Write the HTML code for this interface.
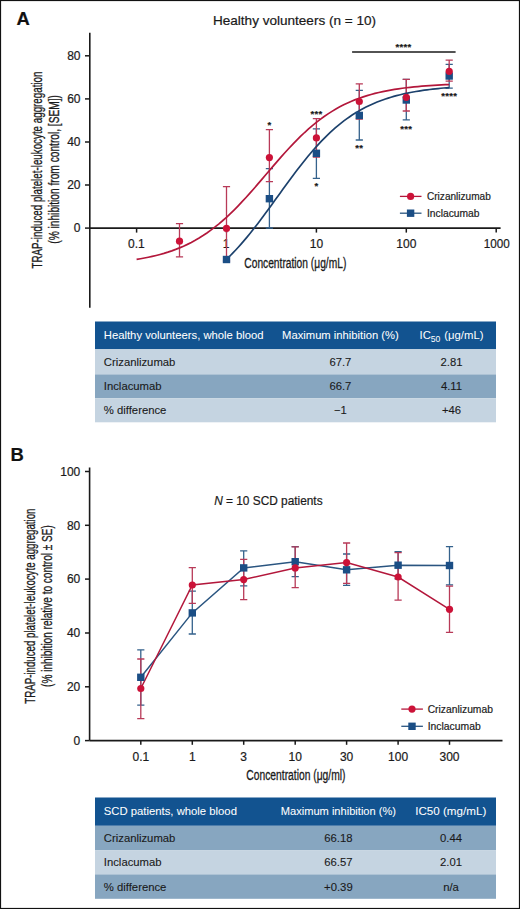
<!DOCTYPE html><html><head><meta charset="utf-8"><style>html,body{margin:0;padding:0;background:#fff;}svg{display:block;font-family:"Liberation Sans", sans-serif;}</style></head><body>
<svg width="520" height="909" viewBox="0 0 520 909">
<rect x="0" y="0" width="520" height="909" fill="#fff"/>
<rect x="0.5" y="0.5" width="519" height="908" fill="none" stroke="#111" stroke-width="1.2"/>
<text x="16.5" y="25.0" font-size="18.40" text-anchor="start" fill="#111" font-weight="bold" stroke="#111" stroke-width="0.20">A</text>
<text x="10.5" y="461.0" font-size="18.40" text-anchor="start" fill="#111" font-weight="bold" stroke="#111" stroke-width="0.20">B</text>
<text x="213.0" y="24.6" font-size="13.00" text-anchor="start" fill="#1a1a1a" font-weight="normal" textLength="163.0" lengthAdjust="spacingAndGlyphs" stroke="#1a1a1a" stroke-width="0.20">Healthy volunteers (n = 10)</text>
<path d="M89.8 32.7 V307.8" stroke="#1a1a1a" stroke-width="1.6" fill="none"/>
<path d="M89.8 228.1 H500.6" stroke="#1a1a1a" stroke-width="1.6" fill="none"/>
<path d="M85 55.8 H89.8" stroke="#1a1a1a" stroke-width="1.5"/>
<text x="80.5" y="60.0" font-size="12.00" text-anchor="end" fill="#1a1a1a" font-weight="normal" stroke="#1a1a1a" stroke-width="0.20">80</text>
<path d="M85 98.9 H89.8" stroke="#1a1a1a" stroke-width="1.5"/>
<text x="80.5" y="103.1" font-size="12.00" text-anchor="end" fill="#1a1a1a" font-weight="normal" stroke="#1a1a1a" stroke-width="0.20">60</text>
<path d="M85 142.0 H89.8" stroke="#1a1a1a" stroke-width="1.5"/>
<text x="80.5" y="146.2" font-size="12.00" text-anchor="end" fill="#1a1a1a" font-weight="normal" stroke="#1a1a1a" stroke-width="0.20">40</text>
<path d="M85 185.0 H89.8" stroke="#1a1a1a" stroke-width="1.5"/>
<text x="80.5" y="189.2" font-size="12.00" text-anchor="end" fill="#1a1a1a" font-weight="normal" stroke="#1a1a1a" stroke-width="0.20">20</text>
<path d="M85 228.1 H89.8" stroke="#1a1a1a" stroke-width="1.5"/>
<text x="80.5" y="232.3" font-size="12.00" text-anchor="end" fill="#1a1a1a" font-weight="normal" stroke="#1a1a1a" stroke-width="0.20">0</text>
<path d="M136.6 228.1 V232.6" stroke="#1a1a1a" stroke-width="1.5"/>
<path d="M226.5 228.1 V232.6" stroke="#1a1a1a" stroke-width="1.5"/>
<path d="M316.4 228.1 V232.6" stroke="#1a1a1a" stroke-width="1.5"/>
<path d="M406.3 228.1 V232.6" stroke="#1a1a1a" stroke-width="1.5"/>
<path d="M496.2 228.1 V232.6" stroke="#1a1a1a" stroke-width="1.5"/>
<text x="136.3" y="247.7" font-size="12.00" text-anchor="middle" fill="#1a1a1a" font-weight="normal" stroke="#1a1a1a" stroke-width="0.20">0.1</text>
<text x="226.2" y="247.7" font-size="12.00" text-anchor="middle" fill="#1a1a1a" font-weight="normal" stroke="#1a1a1a" stroke-width="0.20">1</text>
<text x="316.4" y="247.7" font-size="12.00" text-anchor="middle" fill="#1a1a1a" font-weight="normal" stroke="#1a1a1a" stroke-width="0.20">10</text>
<text x="406.3" y="247.7" font-size="12.00" text-anchor="middle" fill="#1a1a1a" font-weight="normal" stroke="#1a1a1a" stroke-width="0.20">100</text>
<text x="496.8" y="247.7" font-size="12.00" text-anchor="middle" fill="#1a1a1a" font-weight="normal" textLength="26.0" lengthAdjust="spacingAndGlyphs" stroke="#1a1a1a" stroke-width="0.20">1000</text>
<text x="244.3" y="268.0" font-size="14.00" text-anchor="start" fill="#1a1a1a" font-weight="normal" textLength="102.0" lengthAdjust="spacingAndGlyphs" stroke="#1a1a1a" stroke-width="0.3">Concentration (μg/mL)</text>
<g transform="translate(41.5,268.5) rotate(-90)"><text x="0.0" y="0.0" font-size="14.50" text-anchor="start" fill="#1a1a1a" font-weight="normal" textLength="197.0" lengthAdjust="spacingAndGlyphs" stroke="#1a1a1a" stroke-width="0.3">TRAP-induced platelet-leukocyte aggregation</text></g>
<g transform="translate(59,243.7) rotate(-90)"><text x="0.0" y="0.0" font-size="14.50" text-anchor="start" fill="#1a1a1a" font-weight="normal" textLength="148.6" lengthAdjust="spacingAndGlyphs" stroke="#1a1a1a" stroke-width="0.3">(% inhibition from control, [SEM])</text></g>
<path d="M269.4 168.7 V228.0 M265.8 168.7 H273.0 M265.8 228.0 H273.0" stroke="#35628c" stroke-width="1.30" fill="none"/>
<path d="M316.4 128.8 V178.3 M312.8 128.8 H320.0 M312.8 178.3 H320.0" stroke="#35628c" stroke-width="1.30" fill="none"/>
<path d="M359.3 90.4 V140.0 M355.7 90.4 H362.9 M355.7 140.0 H362.9" stroke="#35628c" stroke-width="1.30" fill="none"/>
<path d="M406.3 79.4 V119.8 M402.7 79.4 H409.9 M402.7 119.8 H409.9" stroke="#35628c" stroke-width="1.30" fill="none"/>
<path d="M449.2 64.4 V88.1 M445.6 64.4 H452.8 M445.6 88.1 H452.8" stroke="#35628c" stroke-width="1.30" fill="none"/>
<path d="M179.5 223.6 V256.8 M175.9 223.6 H183.1 M175.9 256.8 H183.1" stroke="#b83a58" stroke-width="1.30" fill="none"/>
<path d="M226.5 186.7 V261.0 M222.9 186.7 H230.1 M222.9 261.0 H230.1" stroke="#b83a58" stroke-width="1.30" fill="none"/>
<path d="M269.4 129.6 V181.6 M265.8 129.6 H273.0 M265.8 181.6 H273.0" stroke="#b83a58" stroke-width="1.30" fill="none"/>
<path d="M316.4 118.7 V157.0 M312.8 118.7 H320.0 M312.8 157.0 H320.0" stroke="#b83a58" stroke-width="1.30" fill="none"/>
<path d="M359.3 83.8 V119.2 M355.7 83.8 H362.9 M355.7 119.2 H362.9" stroke="#b83a58" stroke-width="1.30" fill="none"/>
<path d="M406.3 79.4 V111.0 M402.7 79.4 H409.9 M402.7 111.0 H409.9" stroke="#b83a58" stroke-width="1.30" fill="none"/>
<path d="M449.2 60.2 V81.2 M445.6 60.2 H452.8 M445.6 81.2 H452.8" stroke="#b83a58" stroke-width="1.30" fill="none"/>
<path d="M136.60,259.36 L140.51,258.72 L144.41,258.02 L148.32,257.25 L152.23,256.40 L156.14,255.47 L160.04,254.46 L163.95,253.36 L167.86,252.15 L171.77,250.84 L175.67,249.41 L179.58,247.86 L183.49,246.18 L187.40,244.36 L191.30,242.40 L195.21,240.28 L199.12,238.00 L203.03,235.56 L206.93,232.95 L210.84,230.16 L214.75,227.20 L218.66,224.06 L222.56,220.75 L226.47,217.26 L230.38,213.60 L234.29,209.78 L238.19,205.81 L242.10,201.70 L246.01,197.47 L249.92,193.12 L253.82,188.69 L257.73,184.18 L261.64,179.62 L265.54,175.04 L269.45,170.46 L273.36,165.89 L277.27,161.36 L281.17,156.90 L285.08,152.53 L288.99,148.25 L292.90,144.10 L296.80,140.08 L300.71,136.21 L304.62,132.50 L308.53,128.96 L312.43,125.59 L316.34,122.39 L320.25,119.37 L324.16,116.53 L328.06,113.86 L331.97,111.36 L335.88,109.03 L339.79,106.86 L343.69,104.85 L347.60,102.98 L351.51,101.26 L355.42,99.66 L359.32,98.20 L363.23,96.85 L367.14,95.61 L371.04,94.47 L374.95,93.43 L378.86,92.48 L382.77,91.60 L386.67,90.81 L390.58,90.08 L394.49,89.42 L398.40,88.82 L402.30,88.27 L406.21,87.77 L410.12,87.32 L414.03,86.90 L417.93,86.53 L421.84,86.19 L425.75,85.88 L429.66,85.60 L433.56,85.35 L437.47,85.12 L441.38,84.91 L445.29,84.72 L449.19,84.54" stroke="#b3173b" stroke-width="1.7" fill="none"/>
<path d="M227.40,258.48 L230.17,255.75 L232.94,252.93 L235.72,250.00 L238.49,246.98 L241.26,243.86 L244.03,240.66 L246.81,237.36 L249.58,233.99 L252.35,230.53 L255.12,227.00 L257.90,223.41 L260.67,219.76 L263.44,216.05 L266.21,212.30 L268.99,208.52 L271.76,204.70 L274.53,200.87 L277.30,197.03 L280.08,193.19 L282.85,189.35 L285.62,185.53 L288.39,181.74 L291.16,177.98 L293.94,174.26 L296.71,170.60 L299.48,166.99 L302.25,163.45 L305.03,159.98 L307.80,156.58 L310.57,153.27 L313.34,150.04 L316.12,146.90 L318.89,143.86 L321.66,140.91 L324.43,138.06 L327.21,135.31 L329.98,132.67 L332.75,130.12 L335.52,127.68 L338.30,125.33 L341.07,123.09 L343.84,120.94 L346.61,118.89 L349.39,116.94 L352.16,115.08 L354.93,113.30 L357.70,111.62 L360.48,110.02 L363.25,108.51 L366.02,107.07 L368.79,105.71 L371.57,104.42 L374.34,103.21 L377.11,102.06 L379.88,100.97 L382.65,99.95 L385.43,98.99 L388.20,98.08 L390.97,97.22 L393.74,96.42 L396.52,95.66 L399.29,94.95 L402.06,94.28 L404.83,93.65 L407.61,93.06 L410.38,92.50 L413.15,91.98 L415.92,91.49 L418.70,91.04 L421.47,90.61 L424.24,90.21 L427.01,89.83 L429.79,89.48 L432.56,89.14 L435.33,88.83 L438.10,88.54 L440.88,88.27 L443.65,88.02 L446.42,87.78 L449.19,87.56" stroke="#1c416c" stroke-width="1.7" fill="none"/>
<rect x="222.8" y="255.8" width="7.4" height="7.4" fill="#1b4e85"/>
<rect x="265.7" y="195.0" width="7.4" height="7.4" fill="#1b4e85"/>
<rect x="312.7" y="149.6" width="7.4" height="7.4" fill="#1b4e85"/>
<rect x="355.6" y="111.7" width="7.4" height="7.4" fill="#1b4e85"/>
<rect x="402.6" y="96.3" width="7.4" height="7.4" fill="#1b4e85"/>
<rect x="445.5" y="72.3" width="7.4" height="7.4" fill="#1b4e85"/>
<circle cx="179.5" cy="241.2" r="3.6" fill="#cc1238"/>
<circle cx="226.5" cy="228.4" r="3.6" fill="#cc1238"/>
<circle cx="269.4" cy="157.6" r="3.6" fill="#cc1238"/>
<circle cx="316.4" cy="137.9" r="3.6" fill="#cc1238"/>
<circle cx="359.3" cy="101.5" r="3.6" fill="#cc1238"/>
<circle cx="406.3" cy="97.3" r="3.6" fill="#cc1238"/>
<circle cx="449.2" cy="71.3" r="3.6" fill="#cc1238"/>
<text x="269.4" y="127.7" font-size="9.50" text-anchor="middle" fill="#1a1a1a" font-weight="bold" letter-spacing="0.3" stroke="#1a1a1a" stroke-width="0.20">*</text>
<text x="316.4" y="116.5" font-size="9.50" text-anchor="middle" fill="#1a1a1a" font-weight="bold" letter-spacing="0.3" stroke="#1a1a1a" stroke-width="0.20">***</text>
<text x="316.4" y="189.2" font-size="9.50" text-anchor="middle" fill="#1a1a1a" font-weight="bold" letter-spacing="0.3" stroke="#1a1a1a" stroke-width="0.20">*</text>
<text x="359.3" y="151.1" font-size="9.50" text-anchor="middle" fill="#1a1a1a" font-weight="bold" letter-spacing="0.3" stroke="#1a1a1a" stroke-width="0.20">**</text>
<text x="406.3" y="131.7" font-size="9.50" text-anchor="middle" fill="#1a1a1a" font-weight="bold" letter-spacing="0.3" stroke="#1a1a1a" stroke-width="0.20">***</text>
<text x="449.2" y="99.2" font-size="9.50" text-anchor="middle" fill="#1a1a1a" font-weight="bold" letter-spacing="0.3" stroke="#1a1a1a" stroke-width="0.20">****</text>
<text x="403.5" y="50.0" font-size="9.50" text-anchor="middle" fill="#1a1a1a" font-weight="bold" letter-spacing="0.3" stroke="#1a1a1a" stroke-width="0.20">****</text>
<path d="M352.1 52 H455.6" stroke="#1a1a1a" stroke-width="1.6"/>
<path d="M399.9 196.4 H421.5" stroke="#b3173b" stroke-width="1.3"/><circle cx="410.6" cy="196.4" r="3.6" fill="#cc1238"/><path d="M399.9 213.2 H421.5" stroke="#2a5580" stroke-width="1.3"/><rect x="406.9" y="209.5" width="7.4" height="7.4" fill="#1b4e85"/><text x="427.0" y="200.0" font-size="11.20" text-anchor="start" fill="#1a1a1a" font-weight="normal" textLength="63.8" lengthAdjust="spacingAndGlyphs" stroke="#1a1a1a" stroke-width="0.20">Crizanlizumab</text><text x="427.0" y="216.8" font-size="11.20" text-anchor="start" fill="#1a1a1a" font-weight="normal" textLength="52.5" lengthAdjust="spacingAndGlyphs" stroke="#1a1a1a" stroke-width="0.20">Inclacumab</text>
<rect x="95" y="321.5" width="401" height="27.8" fill="#125390"/><rect x="95" y="349.3" width="401" height="25.1" fill="#c5d4e1"/><rect x="95" y="374.4" width="401" height="23.9" fill="#87a6c0"/><rect x="95" y="398.3" width="401" height="24.0" fill="#c5d4e1"/><text x="103.8" y="339.4" font-size="11.30" text-anchor="start" fill="#fff" font-weight="normal" textLength="159.8" lengthAdjust="spacingAndGlyphs" stroke="#fff" stroke-width="0.05">Healthy volunteers, whole blood</text><text x="340.4" y="339.4" font-size="11.30" text-anchor="middle" fill="#fff" font-weight="normal" textLength="116.6" lengthAdjust="spacingAndGlyphs" stroke="#fff" stroke-width="0.05">Maximum inhibition (%)</text><text x="419.5" y="339.4" font-size="11.3" fill="#fff">IC<tspan font-size="8.6" dy="3">50</tspan><tspan dy="-3" dx="0.8"> (μg/mL)</tspan></text><text x="103.8" y="365.9" font-size="11.30" text-anchor="start" fill="#1a1a1a" font-weight="normal" stroke="#1a1a1a" stroke-width="0.10">Crizanlizumab</text><text x="340.4" y="365.9" font-size="11.30" text-anchor="middle" fill="#1a1a1a" font-weight="normal" stroke="#1a1a1a" stroke-width="0.10">67.7</text><text x="451.5" y="365.9" font-size="11.30" text-anchor="middle" fill="#1a1a1a" font-weight="normal" stroke="#1a1a1a" stroke-width="0.10">2.81</text><text x="103.8" y="390.2" font-size="11.30" text-anchor="start" fill="#1a1a1a" font-weight="normal" stroke="#1a1a1a" stroke-width="0.10">Inclacumab</text><text x="340.4" y="390.2" font-size="11.30" text-anchor="middle" fill="#1a1a1a" font-weight="normal" stroke="#1a1a1a" stroke-width="0.10">66.7</text><text x="451.5" y="390.2" font-size="11.30" text-anchor="middle" fill="#1a1a1a" font-weight="normal" stroke="#1a1a1a" stroke-width="0.10">4.11</text><text x="103.8" y="414.2" font-size="11.30" text-anchor="start" fill="#1a1a1a" font-weight="normal" stroke="#1a1a1a" stroke-width="0.10">% difference</text><text x="340.4" y="414.2" font-size="11.30" text-anchor="middle" fill="#1a1a1a" font-weight="normal" stroke="#1a1a1a" stroke-width="0.10">−1</text><text x="451.5" y="414.2" font-size="11.30" text-anchor="middle" fill="#1a1a1a" font-weight="normal" stroke="#1a1a1a" stroke-width="0.10">+46</text>
<path d="M89.6 467.5 V740.6" stroke="#1a1a1a" stroke-width="1.6" fill="none"/>
<path d="M89.6 740.6 H502.5" stroke="#1a1a1a" stroke-width="1.6" fill="none"/>
<path d="M85 471.5 H89.6" stroke="#1a1a1a" stroke-width="1.5"/>
<text x="80.3" y="475.7" font-size="12.00" text-anchor="end" fill="#1a1a1a" font-weight="normal" stroke="#1a1a1a" stroke-width="0.20">100</text>
<path d="M85 525.3 H89.6" stroke="#1a1a1a" stroke-width="1.5"/>
<text x="80.3" y="529.5" font-size="12.00" text-anchor="end" fill="#1a1a1a" font-weight="normal" stroke="#1a1a1a" stroke-width="0.20">80</text>
<path d="M85 579.1 H89.6" stroke="#1a1a1a" stroke-width="1.5"/>
<text x="80.3" y="583.3" font-size="12.00" text-anchor="end" fill="#1a1a1a" font-weight="normal" stroke="#1a1a1a" stroke-width="0.20">60</text>
<path d="M85 633.0 H89.6" stroke="#1a1a1a" stroke-width="1.5"/>
<text x="80.3" y="637.2" font-size="12.00" text-anchor="end" fill="#1a1a1a" font-weight="normal" stroke="#1a1a1a" stroke-width="0.20">40</text>
<path d="M85 686.8 H89.6" stroke="#1a1a1a" stroke-width="1.5"/>
<text x="80.3" y="691.0" font-size="12.00" text-anchor="end" fill="#1a1a1a" font-weight="normal" stroke="#1a1a1a" stroke-width="0.20">20</text>
<path d="M85 740.6 H89.6" stroke="#1a1a1a" stroke-width="1.5"/>
<text x="80.3" y="744.8" font-size="12.00" text-anchor="end" fill="#1a1a1a" font-weight="normal" stroke="#1a1a1a" stroke-width="0.20">0</text>
<path d="M140.8 740.6 V744.8" stroke="#1a1a1a" stroke-width="1.5"/>
<text x="140.8" y="761.0" font-size="12.00" text-anchor="middle" fill="#1a1a1a" font-weight="normal" stroke="#1a1a1a" stroke-width="0.20">0.1</text>
<path d="M192.3 740.6 V744.8" stroke="#1a1a1a" stroke-width="1.5"/>
<text x="192.3" y="761.0" font-size="12.00" text-anchor="middle" fill="#1a1a1a" font-weight="normal" stroke="#1a1a1a" stroke-width="0.20">1</text>
<path d="M243.7 740.6 V744.8" stroke="#1a1a1a" stroke-width="1.5"/>
<text x="243.7" y="761.0" font-size="12.00" text-anchor="middle" fill="#1a1a1a" font-weight="normal" stroke="#1a1a1a" stroke-width="0.20">3</text>
<path d="M295.2 740.6 V744.8" stroke="#1a1a1a" stroke-width="1.5"/>
<text x="295.2" y="761.0" font-size="12.00" text-anchor="middle" fill="#1a1a1a" font-weight="normal" stroke="#1a1a1a" stroke-width="0.20">10</text>
<path d="M346.6 740.6 V744.8" stroke="#1a1a1a" stroke-width="1.5"/>
<text x="346.6" y="761.0" font-size="12.00" text-anchor="middle" fill="#1a1a1a" font-weight="normal" stroke="#1a1a1a" stroke-width="0.20">30</text>
<path d="M398.1 740.6 V744.8" stroke="#1a1a1a" stroke-width="1.5"/>
<text x="398.1" y="761.0" font-size="12.00" text-anchor="middle" fill="#1a1a1a" font-weight="normal" stroke="#1a1a1a" stroke-width="0.20">100</text>
<path d="M449.5 740.6 V744.8" stroke="#1a1a1a" stroke-width="1.5"/>
<text x="449.5" y="761.0" font-size="12.00" text-anchor="middle" fill="#1a1a1a" font-weight="normal" stroke="#1a1a1a" stroke-width="0.20">300</text>
<text x="246.3" y="780.0" font-size="14.00" text-anchor="start" fill="#1a1a1a" font-weight="normal" textLength="99.2" lengthAdjust="spacingAndGlyphs" stroke="#1a1a1a" stroke-width="0.3">Concentration (μg/ml)</text>
<g transform="translate(35,703.7) rotate(-90)"><text x="0.0" y="0.0" font-size="14.50" text-anchor="start" fill="#1a1a1a" font-weight="normal" textLength="195.2" lengthAdjust="spacingAndGlyphs" stroke="#1a1a1a" stroke-width="0.3">TRAP-induced platelet-leukocyte aggregation</text></g>
<g transform="translate(51.8,686.9) rotate(-90)"><text x="0.0" y="0.0" font-size="14.50" text-anchor="start" fill="#1a1a1a" font-weight="normal" textLength="161.7" lengthAdjust="spacingAndGlyphs" stroke="#1a1a1a" stroke-width="0.3">(% inhibition relative to control ± SE)</text></g>
<text x="214.2" y="505.4" font-size="12.00" text-anchor="start" fill="#1a1a1a" font-weight="normal" textLength="108.4" lengthAdjust="spacingAndGlyphs" stroke="#1a1a1a" stroke-width="0.20"><tspan font-style="italic">N</tspan> = 10 SCD patients</text>
<path d="M140.8 649.8 V705.2 M137.2 649.8 H144.4 M137.2 705.2 H144.4" stroke="#35628c" stroke-width="1.30" fill="none"/>
<path d="M192.3 591.2 V634.0 M188.7 591.2 H195.9 M188.7 634.0 H195.9" stroke="#35628c" stroke-width="1.30" fill="none"/>
<path d="M243.7 550.8 V585.8 M240.1 550.8 H247.3 M240.1 585.8 H247.3" stroke="#35628c" stroke-width="1.30" fill="none"/>
<path d="M295.2 546.7 V576.7 M291.6 546.7 H298.8 M291.6 576.7 H298.8" stroke="#35628c" stroke-width="1.30" fill="none"/>
<path d="M346.6 554.0 V585.4 M343.0 554.0 H350.2 M343.0 585.4 H350.2" stroke="#35628c" stroke-width="1.30" fill="none"/>
<path d="M398.1 551.6 V578.8 M394.5 551.6 H401.7 M394.5 578.8 H401.7" stroke="#35628c" stroke-width="1.30" fill="none"/>
<path d="M449.5 546.7 V584.8 M445.9 546.7 H453.1 M445.9 584.8 H453.1" stroke="#35628c" stroke-width="1.30" fill="none"/>
<path d="M140.8 659.0 V718.7 M137.2 659.0 H144.4 M137.2 718.7 H144.4" stroke="#b83a58" stroke-width="1.30" fill="none"/>
<path d="M192.3 567.7 V603.3 M188.7 567.7 H195.9 M188.7 603.3 H195.9" stroke="#b83a58" stroke-width="1.30" fill="none"/>
<path d="M243.7 559.4 V599.6 M240.1 559.4 H247.3 M240.1 599.6 H247.3" stroke="#b83a58" stroke-width="1.30" fill="none"/>
<path d="M295.2 546.9 V587.7 M291.6 546.9 H298.8 M291.6 587.7 H298.8" stroke="#b83a58" stroke-width="1.30" fill="none"/>
<path d="M346.6 543.0 V583.4 M343.0 543.0 H350.2 M343.0 583.4 H350.2" stroke="#b83a58" stroke-width="1.30" fill="none"/>
<path d="M398.1 552.7 V600.1 M394.5 552.7 H401.7 M394.5 600.1 H401.7" stroke="#b83a58" stroke-width="1.30" fill="none"/>
<path d="M449.5 586.2 V632.4 M445.9 586.2 H453.1 M445.9 632.4 H453.1" stroke="#b83a58" stroke-width="1.30" fill="none"/>
<path d="M140.8,677.3 L192.3,612.9 L243.7,567.9 L295.2,561.7 L346.6,569.8 L398.1,565.2 L449.5,565.5" stroke="#2a5580" stroke-width="1.5" fill="none"/>
<path d="M140.8,688.5 L192.3,585.0 L243.7,579.6 L295.2,567.9 L346.6,562.6 L398.1,577.0 L449.5,609.3" stroke="#b3173b" stroke-width="1.5" fill="none"/>
<rect x="137.1" y="673.6" width="7.4" height="7.4" fill="#1b4e85"/>
<rect x="188.6" y="609.2" width="7.4" height="7.4" fill="#1b4e85"/>
<rect x="240.0" y="564.2" width="7.4" height="7.4" fill="#1b4e85"/>
<rect x="291.5" y="558.0" width="7.4" height="7.4" fill="#1b4e85"/>
<rect x="342.9" y="566.1" width="7.4" height="7.4" fill="#1b4e85"/>
<rect x="394.4" y="561.5" width="7.4" height="7.4" fill="#1b4e85"/>
<rect x="445.8" y="561.8" width="7.4" height="7.4" fill="#1b4e85"/>
<circle cx="140.8" cy="688.5" r="3.6" fill="#cc1238"/>
<circle cx="192.3" cy="585.0" r="3.6" fill="#cc1238"/>
<circle cx="243.7" cy="579.6" r="3.6" fill="#cc1238"/>
<circle cx="295.2" cy="567.9" r="3.6" fill="#cc1238"/>
<circle cx="346.6" cy="562.6" r="3.6" fill="#cc1238"/>
<circle cx="398.1" cy="577.0" r="3.6" fill="#cc1238"/>
<circle cx="449.5" cy="609.3" r="3.6" fill="#cc1238"/>
<path d="M401.3 709.1 H422.9" stroke="#b3173b" stroke-width="1.3"/><circle cx="412.0" cy="709.1" r="3.6" fill="#cc1238"/><path d="M401.3 726.3 H422.9" stroke="#2a5580" stroke-width="1.3"/><rect x="408.3" y="722.6" width="7.4" height="7.4" fill="#1b4e85"/><text x="427.7" y="712.7" font-size="11.20" text-anchor="start" fill="#1a1a1a" font-weight="normal" textLength="65.2" lengthAdjust="spacingAndGlyphs" stroke="#1a1a1a" stroke-width="0.20">Crizanlizumab</text><text x="427.7" y="729.9" font-size="11.20" text-anchor="start" fill="#1a1a1a" font-weight="normal" textLength="53.1" lengthAdjust="spacingAndGlyphs" stroke="#1a1a1a" stroke-width="0.20">Inclacumab</text>
<rect x="95" y="797.5" width="401" height="28.3" fill="#125390"/><rect x="95" y="825.8" width="401" height="24.6" fill="#87a6c0"/><rect x="95" y="850.4" width="401" height="24.0" fill="#c5d4e1"/><rect x="95" y="874.4" width="401" height="24.4" fill="#87a6c0"/><text x="103.8" y="815.2" font-size="11.30" text-anchor="start" fill="#fff" font-weight="normal" stroke="#fff" stroke-width="0.05">SCD patients, whole blood</text><text x="338.4" y="815.2" font-size="11.30" text-anchor="middle" fill="#fff" font-weight="normal" textLength="115.3" lengthAdjust="spacingAndGlyphs" stroke="#fff" stroke-width="0.05">Maximum inhibition (%)</text><text x="415.2" y="815.2" font-size="11.30" text-anchor="start" fill="#fff" font-weight="normal" textLength="71.1" lengthAdjust="spacingAndGlyphs" stroke="#fff" stroke-width="0.05">IC50 (mg/mL)</text><text x="103.8" y="841.9" font-size="11.30" text-anchor="start" fill="#1a1a1a" font-weight="normal" stroke="#1a1a1a" stroke-width="0.10">Crizanlizumab</text><text x="338.4" y="841.9" font-size="11.30" text-anchor="middle" fill="#1a1a1a" font-weight="normal" stroke="#1a1a1a" stroke-width="0.10">66.18</text><text x="451.0" y="841.9" font-size="11.30" text-anchor="middle" fill="#1a1a1a" font-weight="normal" stroke="#1a1a1a" stroke-width="0.10">0.44</text><text x="103.8" y="866.1" font-size="11.30" text-anchor="start" fill="#1a1a1a" font-weight="normal" stroke="#1a1a1a" stroke-width="0.10">Inclacumab</text><text x="338.4" y="866.1" font-size="11.30" text-anchor="middle" fill="#1a1a1a" font-weight="normal" stroke="#1a1a1a" stroke-width="0.10">66.57</text><text x="451.0" y="866.1" font-size="11.30" text-anchor="middle" fill="#1a1a1a" font-weight="normal" stroke="#1a1a1a" stroke-width="0.10">2.01</text><text x="103.8" y="890.5" font-size="11.30" text-anchor="start" fill="#1a1a1a" font-weight="normal" stroke="#1a1a1a" stroke-width="0.10">% difference</text><text x="338.4" y="890.5" font-size="11.30" text-anchor="middle" fill="#1a1a1a" font-weight="normal" stroke="#1a1a1a" stroke-width="0.10">+0.39</text><text x="451.0" y="890.5" font-size="11.30" text-anchor="middle" fill="#1a1a1a" font-weight="normal" stroke="#1a1a1a" stroke-width="0.10">n/a</text>
</svg></body></html>
